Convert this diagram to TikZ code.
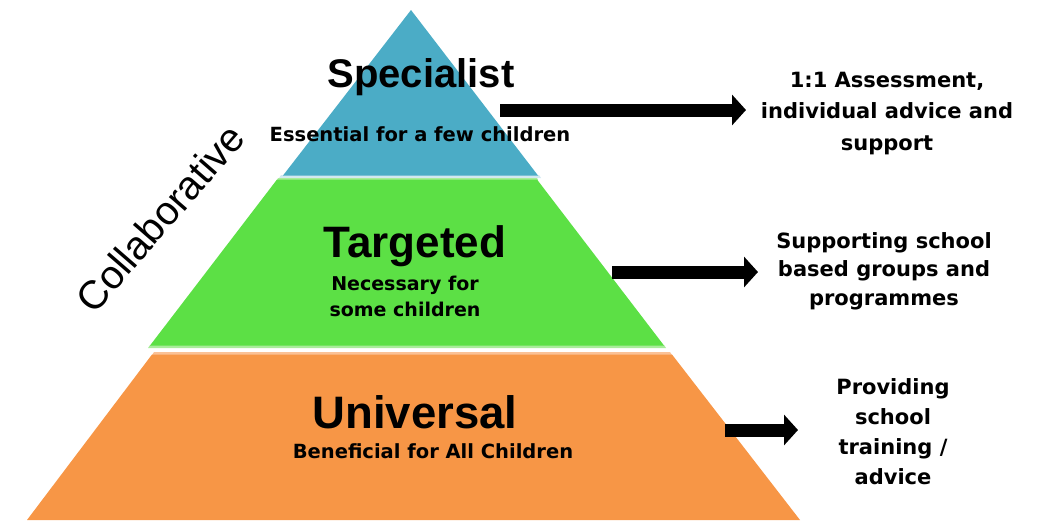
\documentclass[tikz,border=0pt]{standalone}
\usepackage{fontspec}
\setmainfont{Liberation Sans}
\newfontfamily\notefont{DejaVu Sans}
\usetikzlibrary{arrows.meta}
\definecolor{tierblue}{HTML}{4BACC6}
\definecolor{tierbluepale}{HTML}{D2E8F0}
\definecolor{tiergreen}{HTML}{5CE045}
\definecolor{tiergreenpale}{HTML}{A9EC9A}
\definecolor{tierorange}{HTML}{F79646}
\definecolor{tierorangepale}{HTML}{FBC196}
\begin{document}
\begin{tikzpicture}[x=1pt,y=-1pt,
  tiertitle/.style={font=\fontsize{#1}{#1}\selectfont\bfseries, inner sep=0pt, anchor=base},
  tiersub/.style={font=\notefont\bfseries\fontsize{19.5}{26}\selectfont, inner sep=0pt, anchor=base, align=center},
  sidenote/.style={font=\notefont\bfseries\fontsize{21}{#1}\selectfont, inner sep=0pt, anchor=base, align=center},
  fatarrow/.style={line width=13pt, -{Triangle[length=14pt,width=30pt]}}
]
\useasboundingbox (0,0) rectangle (1043,520);

% pyramid tiers
\fill[tierbluepale] (281,175) -- (539,175) -- (541,178) -- (279,178) -- cycle;
\fill[tierblue] (411,10) -- (538,175.5) -- (283,175.5) -- cycle;

\fill[tiergreenpale] (278,178) -- (537,178) -- (538,180) -- (277,180) -- cycle;
\fill[tiergreenpale] (150,345) -- (664,345) -- (666,348) -- (148,348) -- cycle;
\fill[tiergreen] (277,179.5) -- (537,179.5) -- (664,345.5) -- (150,345.5) -- cycle;

\fill[tierorangepale] (154,352) -- (670,352) -- (672,355) -- (152,355) -- cycle;
\fill[tierorange] (152,354.5) -- (672,354.5) -- (800,520) -- (27,520) -- cycle;

% tier labels (multi-line nodes sit on their last baseline)
\node[tiertitle=40] (spec) at (421,87) {Specialist};
\node[tiersub] (specsub) at (420,141) {Essential for a few children};
\node[tiertitle=44] (targ) at (415,257) {Targeted};
\node[tiersub, font=\notefont\bfseries\fontsize{19}{26}\selectfont] (targsub) at (405,316) {Necessary for\\some children};
\node[tiertitle=45.5] (univ) at (415,428) {Universal};
\node[tiersub] (univsub) at (433,458) {Beneficial for All Children};

% side label
\node[font=\fontsize{40}{40}\selectfont, inner sep=0pt, rotate=49] (collab) at (160,218) {Collaborative};

% descriptions
\node[sidenote=31.5] (note1) at (887,150) {1:1 Assessment,\\individual advice and\\support};
\node[sidenote=28.5] (note2) at (884,305) {Supporting school\\based groups and\\programmes};
\node[sidenote=30] (note3) at (893,484) {Providing\\school\\training /\\advice};

% arrows
\coordinate (a1s) at (500,110);
\coordinate (a1e) at (746,110);
\coordinate (a2s) at (612,272);
\coordinate (a2e) at (758,272);
\coordinate (a3s) at (725,430);
\coordinate (a3e) at (798,430);
\draw[fatarrow] (a1s) -- (a1e);
\draw[fatarrow] (a2s) -- (a2e);
\draw[fatarrow] (a3s) -- (a3e);
\end{tikzpicture}
\end{document}
